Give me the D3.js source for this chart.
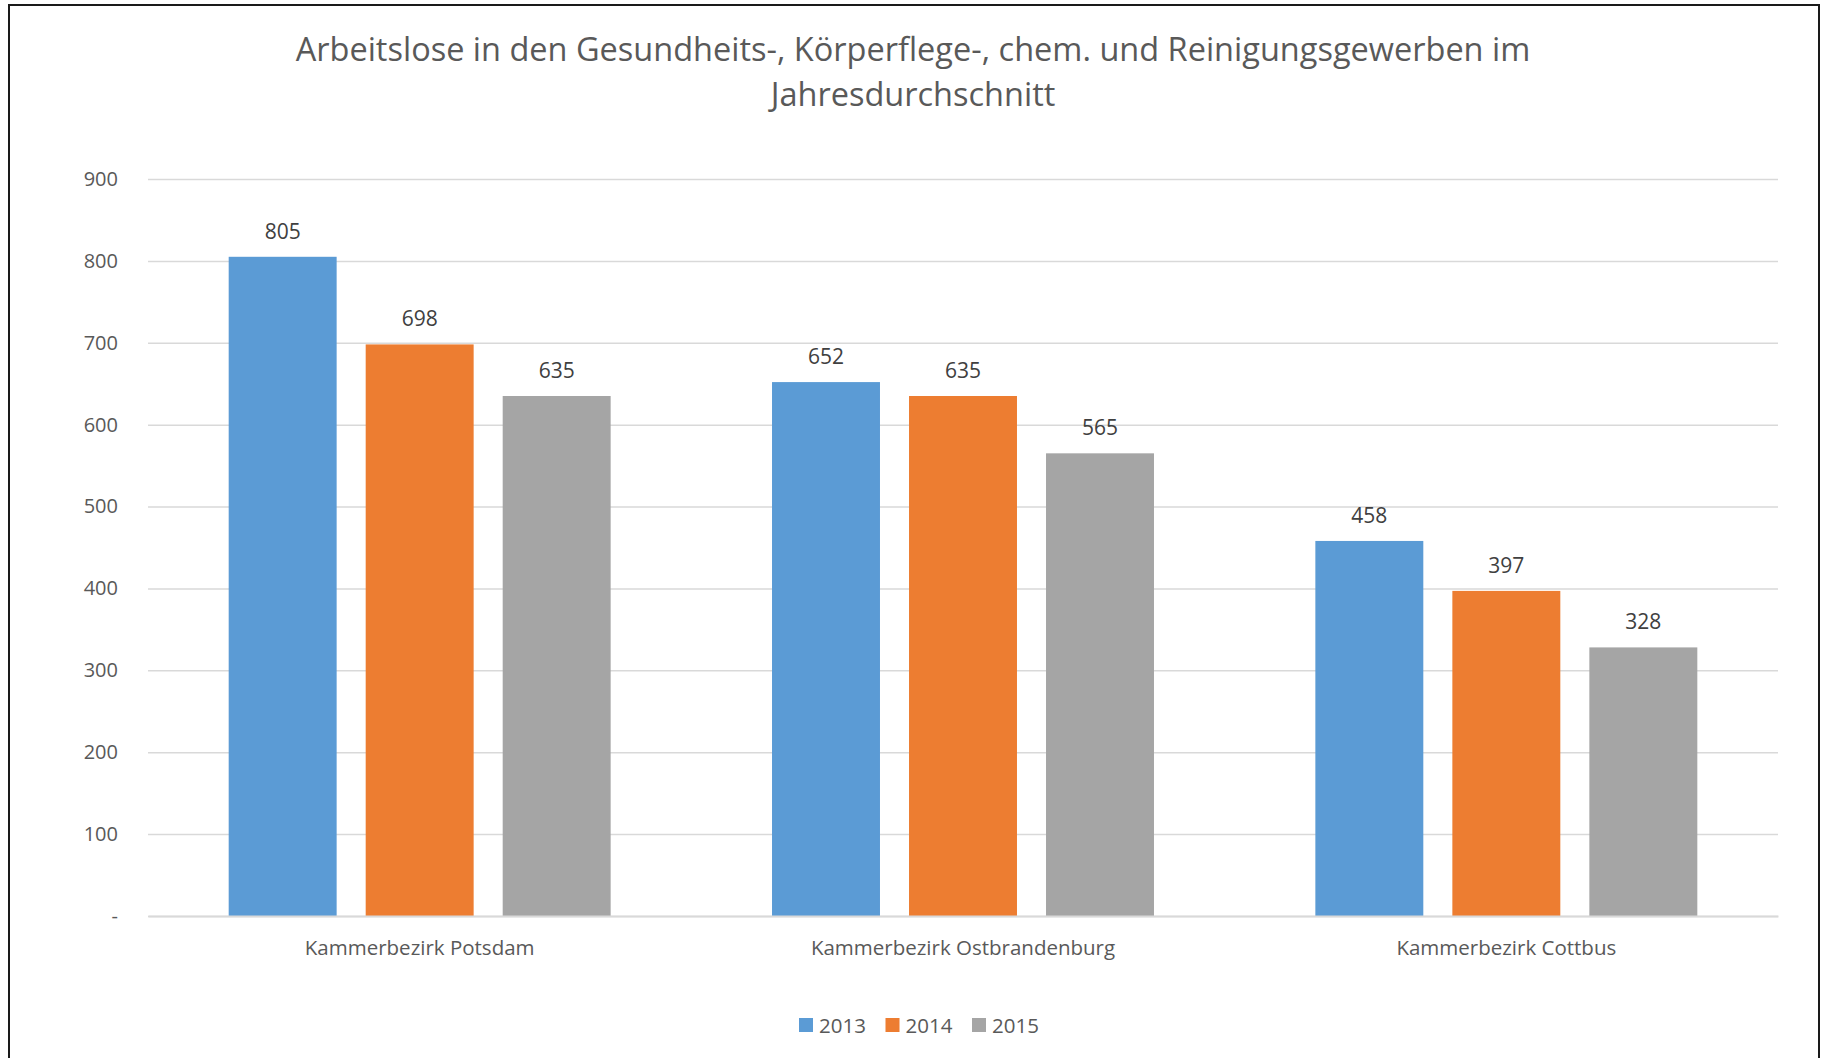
<!DOCTYPE html>
<html>
<head>
<meta charset="utf-8">
<script src="https://cdn.jsdelivr.net/npm/d3@7"></script>
<style>
  html, body { margin: 0; padding: 0; background: #fff; }
  svg { display: block; font-family: "Open Sans", sans-serif; }
  .axis text { font-family: "Open Sans", sans-serif; }
  .y.axis .domain, .x.axis .tick line { display: none; }
  .y.axis .tick line { stroke: #d9d9d9; stroke-width: 1.5; }
  .y.axis .tick text { fill: #595959; font-size: 20px; }
  .x.axis .tick text { fill: #595959; font-size: 20.5px; }
  .x.axis .domain { stroke: #d9d9d9; stroke-width: 2; }
</style>
</head>
<body>
<div id="chart"></div>
<script>
(function() {

  var title = ["Arbeitslose in den Gesundheits-, Körperflege-, chem. und Reinigungsgewerben im",
               "Jahresdurchschnitt"];
  var categories = ["Kammerbezirk Potsdam", "Kammerbezirk Ostbrandenburg", "Kammerbezirk Cottbus"];
  var series = ["2013", "2014", "2015"];
  var values2013 = [805, 652, 458];
  var values2014 = [698, 635, 397];
  var values2015 = [635, 565, 328];
  var yTicks = [0, 100, 200, 300, 400, 500, 600, 700, 800, 900];
  var colors = ["#5b9bd5", "#ed7d31", "#a5a5a5"];

  var seriesValues = [values2013, values2014, values2015];

  var W = 1825, H = 1058;
  var margin = { top: 179, right: 47, bottom: 142, left: 148 };
  var width = W - margin.left - margin.right,
      height = H - margin.top - margin.bottom;

  var svg = d3.select("#chart").append("svg")
      .attr("width", W)
      .attr("height", H);

  // outer frame
  svg.append("rect")
      .attr("x", 9).attr("y", 5)
      .attr("width", 1810).attr("height", 1100)
      .attr("fill", "none")
      .attr("stroke", "#1a1a1a")
      .attr("stroke-width", 2);

  // title
  svg.append("text")
      .attr("x", 913)
      .attr("text-anchor", "middle")
      .attr("fill", "#595959")
      .attr("font-size", 32.5)
    .selectAll("tspan")
    .data(title)
    .enter().append("tspan")
      .attr("x", 913)
      .attr("y", function(d, i) { return 61 + i * 45; })
      .text(function(d) { return d; });

  var g = svg.append("g")
      .attr("transform", "translate(" + margin.left + "," + margin.top + ")");

  var x0 = d3.scaleBand()
      .domain(categories)
      .range([0, width])
      .paddingInner(0.297)
      .paddingOuter(0.1485);

  var x1 = d3.scaleBand()
      .domain(series)
      .range([0, x0.bandwidth()])
      .paddingInner(0.212);

  var y = d3.scaleLinear()
      .domain([0, 900])
      .range([height, 0]);

  var yAxis = d3.axisLeft(y)
      .tickValues(yTicks)
      .tickSize(-width)
      .tickPadding(30)
      .tickFormat(function(d) { return d === 0 ? "-" : d; });

  g.append("g")
      .attr("class", "y axis")
      .call(yAxis);

  var data = categories.map(function(c, ci) {
    return { cat: c, values: series.map(function(s, si) {
      return { key: s, idx: si, value: seriesValues[si][ci] };
    }) };
  });

  var groups = g.selectAll(".group")
      .data(data)
    .enter().append("g")
      .attr("class", "group")
      .attr("transform", function(d) { return "translate(" + x0(d.cat) + ",0)"; });

  groups.selectAll("rect")
      .data(function(d) { return d.values; })
    .enter().append("rect")
      .attr("x", function(d) { return x1(d.key); })
      .attr("y", function(d) { return y(d.value); })
      .attr("width", x1.bandwidth())
      .attr("height", function(d) { return height - y(d.value); })
      .attr("fill", function(d) { return colors[d.idx]; });

  groups.selectAll(".label")
      .data(function(d) { return d.values; })
    .enter().append("text")
      .attr("class", "label")
      .attr("x", function(d) { return x1(d.key) + x1.bandwidth() / 2; })
      .attr("y", function(d) { return y(d.value) - 18; })
      .attr("text-anchor", "middle")
      .attr("fill", "#404040")
      .attr("font-size", 21)
      .text(function(d) { return d.value; });

  // x axis drawn over bars
  var xAxis = d3.axisBottom(x0).tickSize(0).tickPadding(24);
  g.append("g")
      .attr("class", "x axis")
      .attr("transform", "translate(0," + height + ")")
      .call(xAxis);

  // legend
  var legend = svg.append("g")
      .attr("class", "legend")
      .selectAll("g")
      .data(series)
    .enter().append("g")
      .attr("transform", function(d, i) { return "translate(" + (799 + i * 86.5) + ",1018)"; });

  legend.append("rect")
      .attr("width", 14)
      .attr("height", 14)
      .attr("fill", function(d, i) { return colors[i]; });

  legend.append("text")
      .attr("x", 20)
      .attr("y", 14.5)
      .attr("fill", "#595959")
      .attr("font-size", 20.5)
      .text(function(d) { return d; });

}());
</script>
</body>
</html>
